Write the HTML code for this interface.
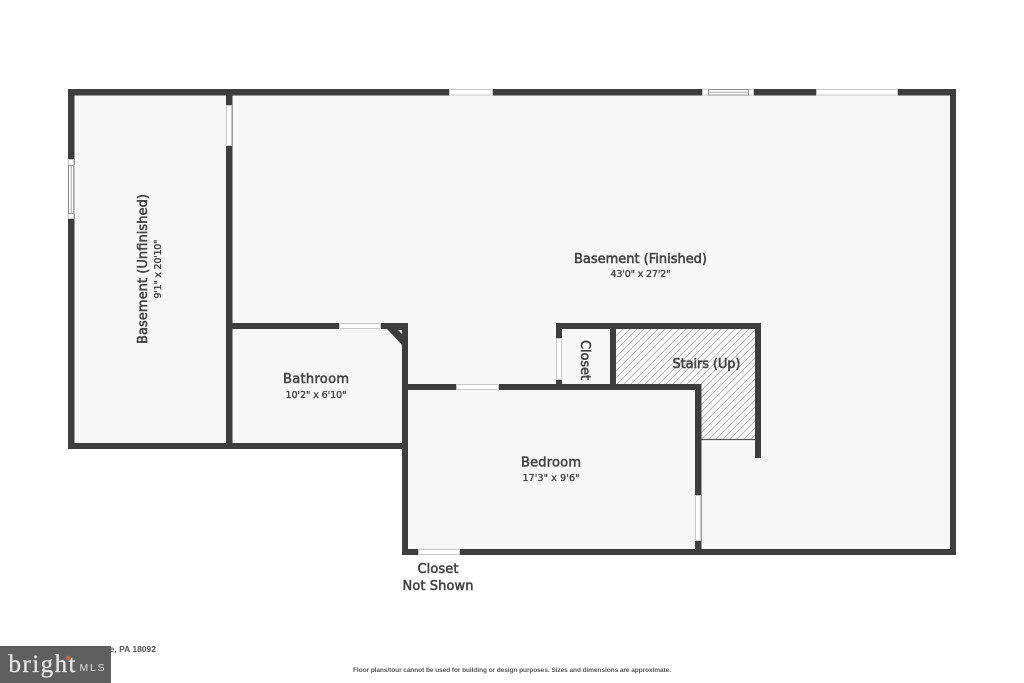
<!DOCTYPE html>
<html><head><meta charset="utf-8"><style>
html,body{margin:0;padding:0;background:#fff}
svg{display:block}
text{font-family:"DejaVu Sans",sans-serif;font-weight:400;fill:#444;stroke:#444;stroke-width:.55px;text-anchor:middle}
.n{font-size:13px}
.d{font-size:9.500px;stroke-width:.35px}
.f{font-family:"Liberation Sans",sans-serif;font-weight:700;stroke:none}
</style></head><body>
<svg width="1024" height="683" viewBox="0 0 1024 683" xmlns="http://www.w3.org/2000/svg">
<defs><pattern id="h" width="7" height="7" patternUnits="userSpaceOnUse"><path d="M-1 8L8 -1M-1 1L1 -1M6 8L8 6" stroke="#b4b4b4" stroke-width=".9" fill="none"/></pattern></defs>
<rect width="1024" height="683" fill="#fff"/>
<path d="M70 91H954V553H404V447H70Z" fill="#f7f7f7"/>
<path d="M615 329H755V439H701V384H615Z" fill="url(#h)"/>
<path d="M701 439.500H755" stroke="#555" stroke-width="1.200"/>
<g fill="#3d3d3d">
<rect x="68" y="89" width="888" height="6.500"/>
<rect x="68" y="89" width="6.500" height="360"/>
<rect x="68" y="443" width="340" height="6"/>
<rect x="226" y="89" width="6.500" height="360"/>
<rect x="950" y="89" width="6" height="466"/>
<rect x="402" y="549" width="554" height="6"/>
<rect x="402" y="323" width="6" height="232"/>
<rect x="232" y="323" width="176" height="6"/>
<rect x="402" y="384" width="299" height="6"/>
<rect x="695" y="384" width="6.500" height="171"/>
<rect x="556" y="323" width="205" height="6"/>
<rect x="556" y="323" width="6" height="65"/>
<rect x="610" y="323" width="6" height="65"/>
<rect x="755" y="323" width="6" height="135"/>
<path d="M381 323H408V345H402L387 329Z"/>
</g>
<path d="M398 330H402V334Z" fill="#e4e4e4"/>
<g fill="#fff" stroke="#c6c6c6" stroke-width="1">
<rect x="449.500" y="89.500" width="43" height="5.500"/>
<rect x="816.500" y="89.500" width="81" height="5.500"/>
<rect x="702.500" y="89.500" width="51" height="5.500"/>
<rect x="226.500" y="105.500" width="5" height="40"/>
<rect x="68.500" y="159.500" width="5" height="59"/>
<rect x="339.500" y="323.500" width="41" height="5"/>
<rect x="456.500" y="384.500" width="42" height="5"/>
<rect x="556.500" y="338.500" width="5" height="41"/>
<rect x="695.500" y="495.500" width="5" height="45"/>
<rect x="418.500" y="549.500" width="41" height="5"/>
</g>
<g fill="none" stroke="#8c8c8c" stroke-width="1">
<rect x="708.500" y="89.500" width="40" height="5.500"/>
<rect x="68.500" y="165.500" width="5.500" height="48"/>
</g>
<path d="M708 92.300H749M71.200 165V214" stroke="#aaa" stroke-width="1"/>
<text class="n" x="640.500" y="263" textLength="133" lengthAdjust="spacing">Basement (Finished)</text>
<text class="d" x="640.500" y="277" textLength="60" lengthAdjust="spacing">43'0" x 27'2"</text>
<text class="n" x="316" y="383" textLength="66" lengthAdjust="spacing">Bathroom</text>
<text class="d" x="316" y="398" textLength="61" lengthAdjust="spacing">10'2" x 6'10"</text>
<text class="n" x="551" y="466.500" textLength="60" lengthAdjust="spacing">Bedroom</text>
<text class="d" x="551" y="481" textLength="57" lengthAdjust="spacing">17'3" x 9'6"</text>
<text class="n" x="706.500" y="368" textLength="68" lengthAdjust="spacing">Stairs (Up)</text>
<text class="n" x="438" y="573" textLength="41" lengthAdjust="spacing">Closet</text>
<text class="n" x="438" y="590" textLength="71" lengthAdjust="spacing">Not Shown</text>
<text class="n" transform="translate(581,360) rotate(90)" textLength="40" lengthAdjust="spacing">Closet</text>
<text class="n" transform="translate(147,269) rotate(-90)" textLength="150" lengthAdjust="spacing">Basement (Unfinished)</text>
<text class="d" transform="translate(161,269) rotate(-90)" textLength="59" lengthAdjust="spacing">9'1" x 20'10"</text>
<text class="f" x="512" y="672" style="font-size:6.500px;fill:#555" textLength="318" lengthAdjust="spacing">Floor plans/tour cannot be used for building or design purposes. Sizes and dimensions are approximate.</text>
<text class="f" x="156" y="652" style="font-size:8.500px;fill:#555;text-anchor:end">Coopersville, PA 18092</text>
<rect x="0" y="646" width="111" height="37" fill="#5f5f5f"/>
<text x="42" y="672" style="font-family:'Liberation Serif',serif;font-size:25px;font-weight:400;fill:#e4e4e4;stroke:#e4e4e4;stroke-width:.3px" textLength="67" lengthAdjust="spacing">bright</text>
<circle cx="68" cy="658" r="2.200" fill="#d9604a"/>
<text x="92" y="671" style="font-family:'Liberation Sans',sans-serif;font-size:10.500px;stroke:none;fill:#ddd" textLength="25" lengthAdjust="spacing">MLS</text>
</svg>
</body></html>
